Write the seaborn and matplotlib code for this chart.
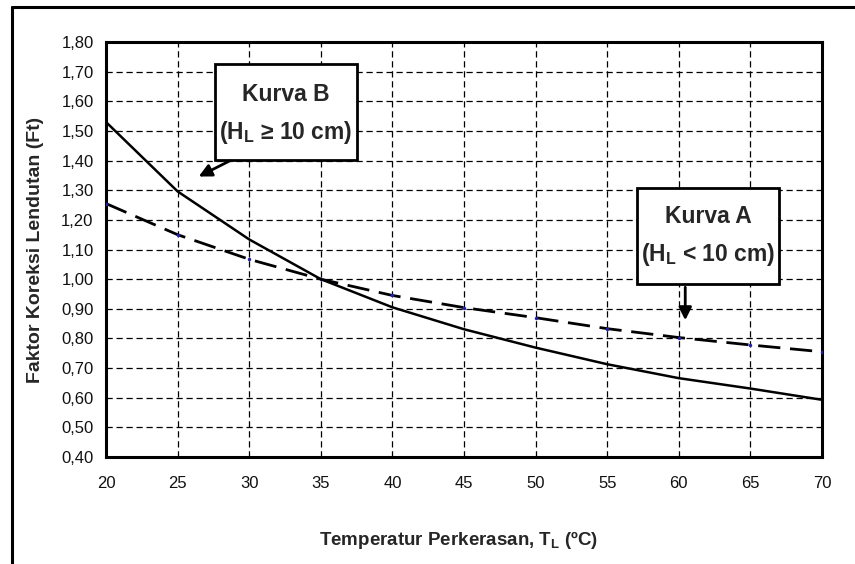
import numpy as np
import pandas as pd
import matplotlib.pyplot as plt
import seaborn as sns
from matplotlib.patches import Rectangle
from matplotlib.lines import Line2D

# Data
temperatur = [20, 25, 30, 35, 40, 45, 50, 55, 60, 65, 70]
ft_kurva_a = [1.255, 1.150, 1.067, 1.000, 0.945, 0.904, 0.870, 0.833, 0.803, 0.778, 0.755]
ft_kurva_b = [1.530, 1.296, 1.134, 1.000, 0.905, 0.831, 0.769, 0.713, 0.666, 0.631, 0.593]
y_ticks = [0.4, 0.5, 0.6, 0.7, 0.8, 0.9, 1.0, 1.1, 1.2, 1.3, 1.4, 1.5, 1.6, 1.7, 1.8]
x_ticks = [20, 25, 30, 35, 40, 45, 50, 55, 60, 65, 70]

sns.set_style('white')
plt.rcParams['font.family'] = ['Liberation Sans', 'DejaVu Sans']
plt.rcParams['mathtext.fontset'] = 'custom'
plt.rcParams['mathtext.rm'] = 'Liberation Sans'
plt.rcParams['mathtext.bf'] = 'Liberation Sans:bold'

df = pd.DataFrame({'T': temperatur, 'A': ft_kurva_a, 'B': ft_kurva_b})

fig = plt.figure(figsize=(8.55, 5.64), dpi=100)
ax = fig.add_axes([0.124, 0.1897, 0.8374, 0.7358])

# grid first so curves sit on top
ax.set_xlim(20, 70)
ax.set_ylim(0.4, 1.8)
ax.set_xticks(x_ticks)
ax.set_yticks(y_ticks)
ax.set_xticklabels([str(t) for t in x_ticks])
ax.set_yticklabels([f"{v:.2f}".replace('.', ',') for v in y_ticks])
ax.grid(True, color='black', linestyle=(0, (5, 3)), linewidth=0.9)
ax.set_axisbelow(True)

sns.lineplot(data=df, x='T', y='A', ax=ax, color='black', linewidth=2.0,
             linestyle=(0, (8, 3.5)), marker='o', markersize=2.5,
             markerfacecolor='#2020b0', markeredgecolor='none', zorder=3)
sns.lineplot(data=df, x='T', y='B', ax=ax, color='black', linewidth=1.8, zorder=4)

ax.set_xlim(20, 70)
ax.set_ylim(0.4, 1.8)

for s in ax.spines.values():
    s.set_linewidth(2.2)
    s.set_color('black')

ax.tick_params(axis='both', direction='out', length=5, width=1.5, color='black',
               labelsize=12, labelcolor='#111111')
ax.tick_params(axis='x', pad=9)
ax.tick_params(axis='y', pad=4)

ax.set_xlabel('Temperatur Perkerasan, T$_\\mathregular{L}$ (ºC)', fontsize=13.5,
              fontweight='bold')
ax.set_ylabel('Faktor Koreksi Lendutan (Ft)', fontsize=14, fontweight='bold')
ax.xaxis.set_label_coords(0.493, -0.173)
ax.yaxis.set_label_coords(-0.086, 0.5)

# annotation boxes
def label_box(x0, x1, y0, y1, line1, line2, y_l1, y_l2):
    rect = Rectangle((x0, y0), x1 - x0, y1 - y0, facecolor='white',
                     edgecolor='black', linewidth=2.0, zorder=6)
    ax.add_patch(rect)
    xc = (x0 + x1) / 2
    ax.text(xc, y_l1, line1, ha='center', va='center', fontsize=16.5,
            fontweight='bold', zorder=7)
    ax.text(xc, y_l2, line2, ha='center', va='center', fontsize=16.5,
            fontweight='bold', zorder=7)

label_box(27.6, 37.5, 1.403, 1.726, 'Kurva B',
          '(H$_\\mathregular{L}$ ≥ 10 cm)', 1.622, 1.494)
label_box(57.1, 67.0, 0.982, 1.309, 'Kurva A',
          '(H$_\\mathregular{L}$ < 10 cm)', 1.211, 1.083)

arrow = dict(arrowstyle='-|>', color='black', lw=2.0, mutation_scale=19)
ax.annotate('', xy=(26.3, 1.342), xytext=(28.8, 1.403), arrowprops=arrow, zorder=6)
ax.annotate('', xy=(60.45, 0.852), xytext=(60.45, 0.982), arrowprops=arrow, zorder=6)

# outer frame of the original figure
fig.add_artist(Line2D([0.014, 1.0], [0.9876, 0.9876], color='black', linewidth=2.2))
fig.add_artist(Line2D([0.014, 0.014], [0.0, 0.9876], color='black', linewidth=2.2))

fig.savefig('out.png', dpi=100)
